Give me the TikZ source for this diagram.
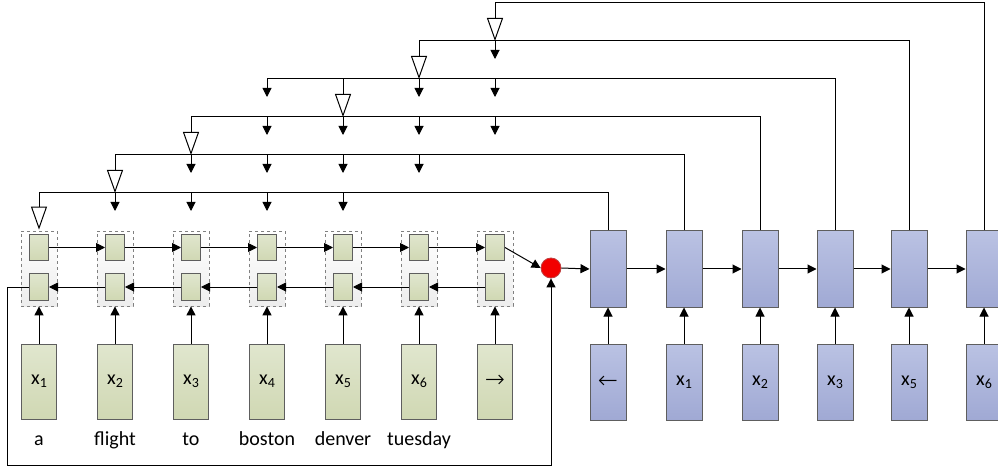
\documentclass[tikz,border=0pt]{standalone}
\usepackage{fontspec}
\setmainfont{Carlito}
\newfontfamily\symfont{DejaVu Sans ExtraLight}
\usetikzlibrary{arrows.meta,calc}
\definecolor{gtop}{HTML}{E0E6CE}
\definecolor{gbot}{HTML}{D0D8B3}
\definecolor{btop}{HTML}{BAC2E3}
\definecolor{bbot}{HTML}{A0A9D4}
\definecolor{edgegray}{HTML}{5E5E5E}
\newcommand{\xsub}[1]{x\raisebox{-0.28ex}{\fontsize{14}{14}\selectfont #1}}
\tikzset{
  greenbox/.style={draw=edgegray,line width=1pt,top color=gtop,bottom color=gbot,minimum width=35pt,minimum height=75pt,inner sep=0pt,font=\fontsize{20}{20}\selectfont},
  smallbox/.style={draw=edgegray,line width=1pt,top color=gtop,bottom color=gbot,minimum width=19pt,minimum height=26pt,inner sep=0pt},
  cellbox/.style={draw=gray,dashed,line width=0.8pt,top color=white,bottom color=black!7,minimum width=36pt,minimum height=75pt,inner sep=0pt},
  bluebox/.style={draw=edgegray,line width=1pt,top color=btop,bottom color=bbot,minimum width=36pt,minimum height=76pt,inner sep=0pt,font=\fontsize{20}{20}\selectfont},
  wordlabel/.style={font=\fontsize{20}{20}\selectfont,inner sep=0pt,anchor=base},
  conn/.style={line width=1pt,black},
  arr/.style={conn,-{Triangle[length=9pt,width=9pt]}},
  opentri/.style={conn,-{Triangle[open,length=23pt,width=16pt,line width=1pt]}},
  reddot/.style={circle,draw=red!50!gray,fill=red!95!black,line width=0.8pt,minimum size=20pt,inner sep=0pt},
  glyph/.style={font=\symfont\fontsize{24}{24}\selectfont}
}
\begin{document}
\begin{tikzpicture}[x=1pt,y=-1pt]
\useasboundingbox (0,0) rectangle (998,470);
% encoder columns
\foreach \k/\lab/\inp in {1/a/{\xsub{1}},2/flight/{\xsub{2}},3/to/{\xsub{3}},4/boston/{\xsub{4}},5/denver/{\xsub{5}},6/tuesday/{\xsub{6}},7//{{\symfont\fontsize{24}{24}\selectfont →}}}{
  \pgfmathsetmacro{\cx}{39+76*(\k-1)}
  \node[cellbox] (e\k) at (\cx,268.5) {};
  \node[smallbox] (f\k) at (\cx,247.5) {};
  \node[smallbox] (b\k) at (\cx,287) {};
  \node[greenbox] (i\k) at (\cx,381.5) {\inp};
  \node[wordlabel] (w\k) at (\cx,445) {\lab};
  \draw[arr] (i\k.north) -- (e\k.south);
}
% forward and backward chains
\foreach \k [evaluate=\k as \n using int(\k+1)] in {1,...,6}{
  \draw[arr] (f\k.east) -- (f\n.west);
  \draw[arr] (b\n.west) -- (b\k.east);
}
% merge node
\node[reddot] (r) at (551,268) {};
\draw[arr] (f7.east) -- (r.west);
\coordinate (lpA) at (7,287);
\coordinate (lpB) at (7,465);
\draw[arr] (b1.west) -- (lpA) -- (lpB) -| (r.south);
% decoder
\foreach \k/\x/\inp in {1/608/{{\symfont\fontsize{24}{24}\selectfont ←}},2/684/{\xsub{1}},3/760/{\xsub{2}},4/835/{\xsub{3}},5/909/{\xsub{5}},6/984/{\xsub{6}}}{
  \node[bluebox] (d\k) at (\x,269) {};
  \node[bluebox] (di\k) at (\x,382) {\inp};
  \draw[arr] (di\k.north) -- (d\k.south);
}
\draw[arr] (r.east) -- (d1.west);
\foreach \k [evaluate=\k as \n using int(\k+1)] in {1,...,5}{
  \draw[arr] (d\k.east) -- (d\n.west);
}
% attention connectors
% level 1
\draw[conn] (d1.north) |- (e1.north |- 0,193);
\draw[opentri] (e1.north |- 0,193) -- ($(e1.north)+(0,-1)$);
\foreach \k in {2,3,4,5}{ \draw[arr] (e\k.north |- 0,193) -- (e\k.north |- 0,211); }
% level 2
\draw[conn] (d2.north) |- (e2.north |- 0,155);
\draw[opentri] (e2.north |- 0,155) -- (e2.north |- 0,193);
\foreach \k in {3,4,5,6}{ \draw[arr] (e\k.north |- 0,155) -- (e\k.north |- 0,173); }
% level 3
\draw[conn] (d3.north) |- (e3.north |- 0,117);
\draw[opentri] (e3.north |- 0,117) -- (e3.north |- 0,155);
\foreach \k in {4,5,6,7}{ \draw[arr] (e\k.north |- 0,117) -- (e\k.north |- 0,135); }
% level 4
\draw[conn] (d4.north) |- (e4.north |- 0,79);
\draw[opentri] (e5.north |- 0,79) -- (e5.north |- 0,117);
\foreach \k in {4,6,7}{ \draw[arr] (e\k.north |- 0,79) -- (e\k.north |- 0,97); }
% level 5
\draw[conn] (d5.north) |- (e6.north |- 0,41);
\draw[opentri] (e6.north |- 0,41) -- (e6.north |- 0,79);
\draw[arr] (e7.north |- 0,41) -- (e7.north |- 0,59);
% level 6
\draw[conn] (d6.north) |- (e7.north |- 0,3);
\draw[opentri] (e7.north |- 0,3) -- (e7.north |- 0,41);
\end{tikzpicture}
\end{document}
